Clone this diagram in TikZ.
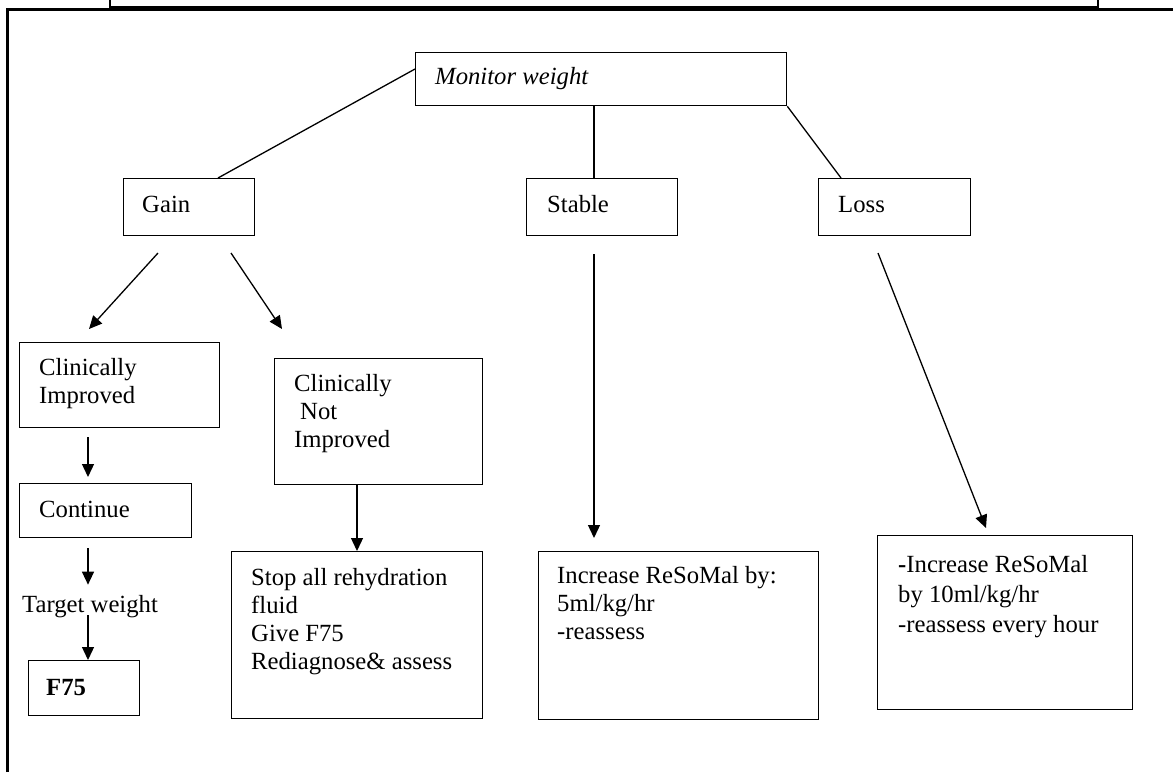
\documentclass[tikz,border=0pt]{standalone}
\usepackage{fontspec}
\setmainfont{Liberation Serif}
\usetikzlibrary{arrows.meta,calc}
\begin{document}
\begin{tikzpicture}[x=1pt,y=-1pt,
  box/.style={draw, line width=1.3pt, rectangle, inner sep=0pt, anchor=north west},
  txt/.style={anchor=base west, inner sep=0pt, font=\fontsize{24.7}{28}\selectfont, align=left},
  link/.style={line width=1.3pt},
  flow/.style={line width=1.3pt, -{Triangle[length=13pt,width=12pt]}},
  frameline/.style={line width=2.4pt}]
\useasboundingbox (0,0) rectangle (1173,772);

% page frame
\draw[frameline] (110,0) -- (110,7) -- (1098,7) -- (1098,0);
\draw[frameline] (7.5,772) -- (7.5,9.5) -- (1173,9.5);

% boxes
\node[box, minimum width=371pt, minimum height=53pt] (mon) at (415,52) {};
\node[box, minimum width=131pt, minimum height=57pt] (gain) at (123,178) {};
\node[box, minimum width=151pt, minimum height=57pt] (stable) at (526,178) {};
\node[box, minimum width=152pt, minimum height=57pt] (loss) at (818,178) {};
\node[box, minimum width=200pt, minimum height=85pt] (ci) at (19,342) {};
\node[box, minimum width=172pt, minimum height=54pt] (cont) at (19,483) {};
\node[box, minimum width=111pt, minimum height=55pt] (f75) at (28,660) {};
\node[box, minimum width=208pt, minimum height=126pt] (cni) at (274,358) {};
\node[box, minimum width=251pt, minimum height=167pt] (stop) at (231,551) {};
\node[box, minimum width=280pt, minimum height=168pt] (inc5) at (538,551) {};
\node[box, minimum width=255pt, minimum height=174pt] (inc10) at (877,535) {};

% texts (multi-line texts are placed by the baseline of their last line)
\node[txt] (tmon) at (435,84) {\itshape Monitor weight};
\node[txt] (tgain) at (142,212) {Gain};
\node[txt] (tstable) at (547,212) {Stable};
\node[txt] (tloss) at (838,212) {Loss};
\node[txt] (tci) at (39,403) {Clinically\\Improved};
\node[txt] (tcont) at (39,517) {Continue};
\node[txt] (tw) at (22,612) {Target weight};
\node[txt] (tf75) at (46,695) {\bfseries F75};
\node[txt] (tcni) at (294,447) {Clinically\\\hspace*{6pt}Not\\Improved};
\node[txt] (tstop) at (251,669) {Stop all rehydration\\fluid\\Give F75\\Rediagnose\& assess};
\node[txt] (tinc5) at (557,639) {Increase ReSoMal by:\\5ml/kg/hr\\-reassess};
\node[txt, font=\fontsize{24.7}{30}\selectfont] (tinc10) at (898,632) {\textbf{-}Increase ReSoMal\\by 10ml/kg/hr\\-reassess every hour};

% branch lines from the weight check
\draw[link] ($(mon.north west)+(0,17)$) -- ($(gain.north west)+(95,0)$);
\draw[link] ($(mon.south west)+(179,0)$) -- ($(stable.north west)+(68,0)$);
\draw[link] (mon.south east) -- ($(loss.north west)+(23,0)$);

% arrow end points in open space
\coordinate (g1s) at (158,253);
\coordinate (g1e) at (89,329);
\coordinate (g2s) at (231,253);
\coordinate (g2e) at (282,329);
\coordinate (ls) at (878,253);
\coordinate (le) at (986,528);
\coordinate (lx) at (88,0);
\coordinate (sx) at (357,0);
\coordinate (mx) at (594,0);

% arrows
\draw[flow] (g1s) -- (g1e);
\draw[flow] (g2s) -- (g2e);
\draw[flow, shorten <=9pt, shorten >=6pt] (ci.south -| lx) -- (cont.north -| lx);
\draw[flow, shorten <=10pt, shorten >=10pt] (cont.south -| lx) -- (tw.north -| lx);
\draw[flow, shorten <=3pt] (tw.base -| lx) -- (f75.north -| lx);
\draw[flow] (cni.south -| sx) -- (stop.north -| sx);
\draw[flow, shorten <=18pt, shorten >=13pt] (stable.south -| mx) -- (inc5.north -| mx);
\draw[flow] (ls) -- (le);
\end{tikzpicture}
\end{document}
